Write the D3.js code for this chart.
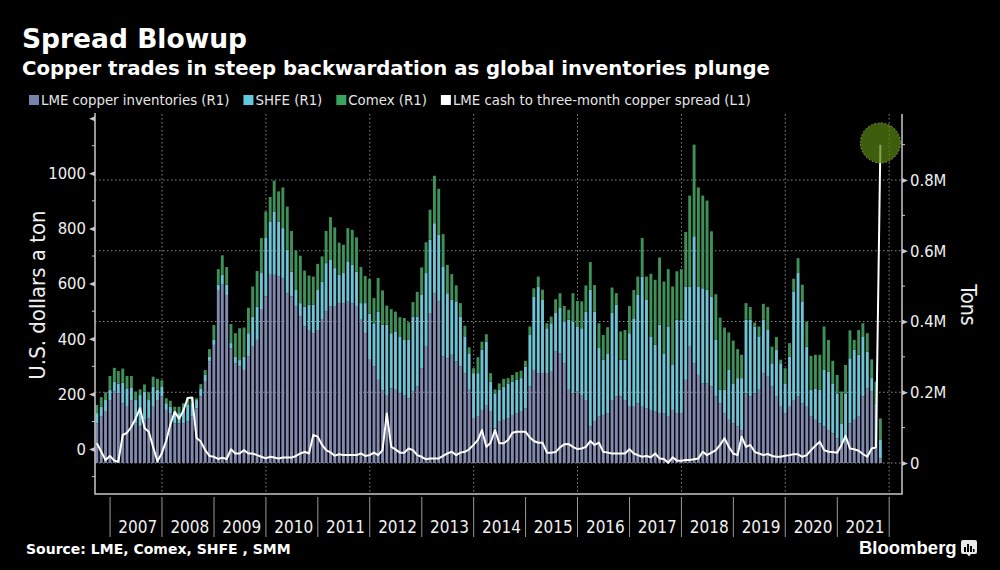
<!DOCTYPE html>
<html>
<head>
<meta charset="utf-8">
<script src="https://d3js.org/d3.v7.min.js"></script>
<style>
html, body { margin: 0; padding: 0; background: #000; }
svg { display: block; }
.cond { font-family: "DejaVu Sans Condensed", "DejaVu Sans", sans-serif; font-stretch: condensed; }
.bold { font-family: "DejaVu Sans", sans-serif; font-weight: bold; }
</style>
</head>
<body>
<svg id="chart" width="1000" height="570"></svg>
<script>
/* --------------------------------------------
 * Spread Blowup - copper stocks vs LME spread
 * monthly, Sep 2006 .. Oct 2021
 * ============================================
 */

// thousand tonnes
var LME = [112,131,145,178,202,197,169,159,178,112,
	103,122,126,159,178,188,150,141,112,112,
	112,117,131,155,188,230,287,334,489,504,
	475,324,282,273,263,301,329,348,433,471,
	532,532,527,522,480,471,442,414,386,376,
	367,376,405,428,442,442,452,452,456,452,
	442,405,367,292,273,235,206,190,211,207,
	197,192,183,202,216,268,329,424,480,457,
	301,296,306,287,273,254,207,126,131,150,
	164,145,98,117,122,126,136,141,145,155,
	216,263,254,254,254,258,315,310,282,207,
	197,202,192,178,103,117,131,136,141,178,
	188,188,178,159,159,169,159,155,150,145,
	141,141,131,150,141,141,235,329,282,249,
	225,225,216,188,169,141,122,112,103,93,
	197,188,197,207,254,244,216,188,159,141,
	159,178,188,169,159,131,122,112,103,93,
	84,70,56,60,112,122,131,188,211,202,
	159,13];

var SHFE = [29,28,33,29,28,27,58,52,36,66,
	89,80,52,57,29,28,19,18,33,29,
	43,47,38,23,23,19,14,14,15,28,
	29,15,19,18,38,66,85,94,104,165,
	151,179,156,142,123,70,47,38,56,71,
	80,113,108,137,132,109,80,85,114,108,
	99,47,85,130,122,193,185,201,156,165,
	161,156,165,212,198,207,208,207,198,188,
	255,184,156,170,141,104,103,128,123,170,
	179,85,99,90,94,99,94,94,95,118,
	146,208,245,207,127,137,109,128,118,198,
	203,184,189,250,387,311,194,156,169,246,
	259,104,114,208,250,306,368,306,208,189,
	250,169,255,127,264,264,264,170,359,250,
	269,265,255,160,38,66,141,113,137,147,
	208,217,189,151,151,132,66,132,123,84,
	142,307,349,288,170,76,89,95,160,165,
	141,127,56,137,184,198,175,170,104,38,
	5,52];

var COMEX = [23,27,22,39,39,36,40,35,32,24,
	16,20,22,28,31,18,14,17,14,18,
	14,22,17,5,12,14,21,42,44,55,
	50,54,66,90,82,72,85,101,99,75,
	69,87,85,115,122,115,112,134,102,83,
	80,74,71,91,121,115,91,80,94,99,
	97,102,77,98,71,95,97,54,68,56,
	54,62,50,41,70,78,87,85,134,130,
	91,80,72,45,38,30,17,14,45,23,
	21,24,11,18,22,15,19,22,21,16,
	24,23,28,29,14,19,39,42,44,28,
	80,72,76,74,78,75,70,70,74,72,
	33,80,84,77,80,52,109,66,177,184,
	190,203,162,222,137,143,154,257,259,280,
	262,252,184,129,204,176,106,121,82,66,
	47,36,11,28,45,65,47,36,10,43,
	38,36,42,47,71,96,95,99,123,90,
	64,52,90,80,79,28,70,37,52,53,
	66,61];

// US$ a ton, cash minus three-month
var SPREAD = [21,-10,-40,-25,-42,-46,51,59,81,111,
	148,76,63,7,-44,-15,30,90,135,110,
	140,185,187,40,27,-4,-25,-28,-36,-31,
	-36,-1,-16,-16,-4,-16,-16,-22,-28,-34,
	-28,-31,-34,-31,-31,-31,-25,-16,-10,-16,
	51,45,15,-4,-12,-24,-19,-22,-22,-22,
	-22,-16,-25,-22,-13,-22,-4,129,8,-1,
	-13,-13,2,-4,-22,-28,-37,-34,-34,-34,
	-25,-16,-10,-22,-13,-10,-1,15,33,69,
	8,23,69,21,21,33,59,63,63,63,
	42,29,23,23,-13,-13,-11,6,17,18,
	8,0,2,8,29,15,23,-10,-13,-16,
	-16,-16,-16,-1,-16,-22,-28,-25,-30,-16,
	-34,-36,-50,-30,-42,-42,-40,-40,-37,-34,
	-10,-22,-13,-4,15,39,8,-16,-22,45,
	8,15,-10,-16,-22,-18,-25,-28,-28,-24,
	-22,-19,-19,-28,-22,-4,12,27,-4,-10,
	-11,-13,15,48,2,-1,-6,-18,-28,2,
	6,1103];

var YEARS = d3.range(2007, 2022);
var LEFT_TICKS = [0, 200, 400, 600, 800, 1000, 1200];
var LEFT_MINOR = [-100, 100, 300, 500, 700, 900, 1100];
var RIGHT_TICKS = [0, 200, 400, 600, 800];
var RIGHT_MINOR = [100, 300, 500, 700, 900];

var COLOR_LME = "#8189ae";
var COLOR_SHFE = "#70c3d4";
var COLOR_COMEX = "#3f9159";

var LEGEND = [
	{ label: "LME copper inventories (R1)", color: "#7584ad" },
	{ label: "SHFE (R1)", color: "#62c8dd" },
	{ label: "Comex (R1)", color: "#3aa45e" },
	{ label: "LME cash to three-month copper spread (L1)", color: "#ffffff" }
];

// ==================================
// layout
// ==================================
var PLOT_L = 95, PLOT_R = 902, PLOT_T = 114, PLOT_B = 494;
var BAR_W = 2.9;
var AXIS_COLOR = "#c8c8c8";

var svg = d3.select("#chart");
svg.append("rect").attr("width", 1000).attr("height", 570).attr("fill", "#000");

// month ends, one per value
var months = d3.timeMonth.range(new Date(2006, 8, 1), new Date(2021, 10, 1));
var table = months.map(function(m, i) {
	return {
		date: d3.timeDay.offset(d3.timeMonth.offset(m, 1), -1),
		lme: LME[i], shfe: SHFE[i], comex: COMEX[i], spread: SPREAD[i]
	};
});

var x = d3.scaleTime()
	.domain([new Date(2006, 8, 17), new Date(2022, 3, 1)])
	.range([PLOT_L, PLOT_R]);
var yL = d3.scaleLinear().domain([-163, 1215]).range([PLOT_B, PLOT_T]);
var yR = d3.scaleLinear().domain([-87.6, 986.6]).range([PLOT_B, PLOT_T]);

// ==================================
// titles + legend
// ==================================
svg.append("text").attr("class", "bold")
	.attr("x", 22).attr("y", 48)
	.attr("font-size", 26.5).attr("fill", "#fff")
	.text("Spread Blowup");

svg.append("text").attr("class", "bold")
	.attr("x", 22).attr("y", 75)
	.attr("font-size", 19.7).attr("fill", "#fff")
	.text("Copper trades in steep backwardation as global inventories plunge");

var legendX = 29;
LEGEND.forEach(function(item) {
	svg.append("rect")
		.attr("x", legendX).attr("y", 95)
		.attr("width", 10).attr("height", 10)
		.attr("fill", item.color);
	var t = svg.append("text").attr("class", "cond")
		.attr("x", legendX + 12).attr("y", 105)
		.attr("font-size", 14.8).attr("fill", "#e6e6e6")
		.text(item.label);
	legendX += 12 + t.node().getComputedTextLength() + 14;
});

// ==================================
// grid
// ==================================
var grid = svg.append("g")
	.attr("stroke", "#8a8a8a")
	.attr("stroke-width", 1)
	.attr("stroke-dasharray", "1.5,2.5");

grid.selectAll("line.h").data(RIGHT_TICKS).enter().append("line")
	.attr("x1", PLOT_L).attr("x2", PLOT_R)
	.attr("y1", function(d) { return yR(d); })
	.attr("y2", function(d) { return yR(d); });

grid.selectAll("line.v").data(d3.range(2008, 2023, 2)).enter().append("line")
	.attr("x1", function(d) { return x(new Date(d, 0, 1)); })
	.attr("x2", function(d) { return x(new Date(d, 0, 1)); })
	.attr("y1", PLOT_T).attr("y2", PLOT_B);

// ==================================
// stacked bars
// ==================================
var series = d3.stack().keys(["lme", "shfe", "comex"])(table);
var colors = { lme: COLOR_LME, shfe: COLOR_SHFE, comex: COLOR_COMEX };

svg.append("g").selectAll("g").data(series).enter().append("g")
	.attr("fill", function(s) { return colors[s.key]; })
	.selectAll("rect").data(function(s) { return s; }).enter().append("rect")
	.attr("x", function(d) { return x(d.data.date) - BAR_W / 2; })
	.attr("width", BAR_W)
	.attr("y", function(d) { return yR(d[1]); })
	.attr("height", function(d) { return Math.max(0, yR(d[0]) - yR(d[1])); });

// ==================================
// spread line
// ==================================
var line = d3.line()
	.x(function(d) { return x(d.date); })
	.y(function(d) { return yL(d.spread); });

svg.append("path")
	.datum(table)
	.attr("d", line)
	.attr("fill", "none")
	.attr("stroke", "#ffffff")
	.attr("stroke-width", 2)
	.attr("stroke-linejoin", "round");

var last = table[table.length - 1];
svg.append("circle")
	.attr("cx", x(last.date)).attr("cy", yL(last.spread) - 2)
	.attr("r", 20)
	.attr("fill", "rgb(86,130,18)")
	.attr("fill-opacity", 0.72)
	.attr("stroke", "#8fb048")
	.attr("stroke-width", 1)
	.attr("stroke-dasharray", "1.5,2");

// ==================================
// frame + axes
// ==================================
svg.append("path")
	.attr("d", "M" + PLOT_L + "," + (PLOT_T - 1) + "V" + PLOT_B + "H" + PLOT_R + "V" + PLOT_T)
	.attr("fill", "none")
	.attr("stroke", AXIS_COLOR)
	.attr("stroke-width", 1.5);

var leftAxis = d3.axisLeft(yL)
	.tickValues(LEFT_TICKS)
	.tickSize(0)
	.tickPadding(9)
	.tickFormat(function(d) { return d > 1000 ? "" : d3.format("d")(d); });

var gL = svg.append("g").attr("class", "cond")
	.attr("transform", "translate(" + PLOT_L + ",0)")
	.call(leftAxis);
gL.select(".domain").remove();
gL.selectAll(".tick text").attr("fill", "#f0f0f0").attr("font-size", 16.5)
	.attr("font-family", null);
gL.selectAll(".tick").append("path")
	.attr("d", "M0,-2.5L-6,0L0,2.5Z")
	.attr("fill", AXIS_COLOR);
gL.selectAll("line.minor").data(LEFT_MINOR).enter().append("line")
	.attr("class", "minor")
	.attr("x1", -3).attr("x2", 0)
	.attr("y1", function(d) { return yL(d); })
	.attr("y2", function(d) { return yL(d); })
	.attr("stroke", AXIS_COLOR);

var rightAxis = d3.axisRight(yR)
	.tickValues(RIGHT_TICKS)
	.tickSize(0)
	.tickPadding(8)
	.tickFormat(function(d) { return d === 0 ? "0" : d3.format(".1f")(d / 1000) + "M"; });

var gR = svg.append("g").attr("class", "cond")
	.attr("transform", "translate(" + PLOT_R + ",0)")
	.call(rightAxis);
gR.select(".domain").remove();
gR.selectAll(".tick text").attr("fill", "#f0f0f0").attr("font-size", 16.5)
	.attr("font-family", null);
gR.selectAll(".tick").append("path")
	.attr("d", "M0,-2.5L6,0L0,2.5Z")
	.attr("fill", AXIS_COLOR);
gR.selectAll("line.minor").data(RIGHT_MINOR).enter().append("line")
	.attr("class", "minor")
	.attr("x1", 0).attr("x2", 3)
	.attr("y1", function(d) { return yR(d); })
	.attr("y2", function(d) { return yR(d); })
	.attr("stroke", AXIS_COLOR);

// axis titles
svg.append("text").attr("class", "cond")
	.attr("transform", "translate(45,295) rotate(-90)")
	.attr("text-anchor", "middle")
	.attr("font-size", 22).attr("fill", "#f0f0f0")
	.text("U.S. dollars a ton");

svg.append("text").attr("class", "cond")
	.attr("transform", "translate(961,305) rotate(90)")
	.attr("text-anchor", "middle")
	.attr("font-size", 21).attr("fill", "#f0f0f0")
	.text("Tons");

// ==================================
// year band under the plot
// ==================================
var years = svg.append("g");
years.selectAll("line").data(d3.range(2007, 2023)).enter().append("line")
	.attr("x1", function(d) { return x(new Date(d, 0, 1)); })
	.attr("x2", function(d) { return x(new Date(d, 0, 1)); })
	.attr("y1", 497).attr("y2", 537)
	.attr("stroke", "#9a9a9a")
	.attr("stroke-width", 1);

years.selectAll("text").data(YEARS).enter().append("text")
	.attr("class", "cond")
	.attr("x", function(d) { return x(new Date(d, 6, 1)) + 2; })
	.attr("y", 533)
	.attr("text-anchor", "middle")
	.attr("font-size", 17)
	.attr("fill", "#f0f0f0")
	.text(function(d) { return d; });

// ==================================
// footer
// ==================================
svg.append("text").attr("class", "bold")
	.attr("x", 26).attr("y", 554)
	.attr("font-size", 14).attr("fill", "#fff")
	.text("Source: LME, Comex, SHFE , SMM");

svg.append("text")
	.attr("x", 859).attr("y", 554)
	.attr("font-family", "'Liberation Sans', Arial, sans-serif")
	.attr("font-weight", "bold")
	.attr("font-size", 18.5).attr("fill", "#fff")
	.text("Bloomberg");

var logo = svg.append("g").attr("transform", "translate(961,540)");
logo.append("path")
	.attr("d", "M2,0H14Q16,0 16,2V12Q16,14 14,14H10L8,16.5L6,14H2Q0,14 0,12V2Q0,0 2,0Z")
	.attr("fill", "#e8e8e8");
logo.selectAll("rect").data([[3, 7, 2], [6, 4, 2], [9, 6, 2], [12, 9, 1.5]]).enter().append("rect")
	.attr("x", function(d) { return d[0]; })
	.attr("y", function(d) { return d[1]; })
	.attr("width", function(d) { return d[2]; })
	.attr("height", function(d) { return 12 - d[1]; })
	.attr("fill", "#000");
</script>
</body>
</html>
